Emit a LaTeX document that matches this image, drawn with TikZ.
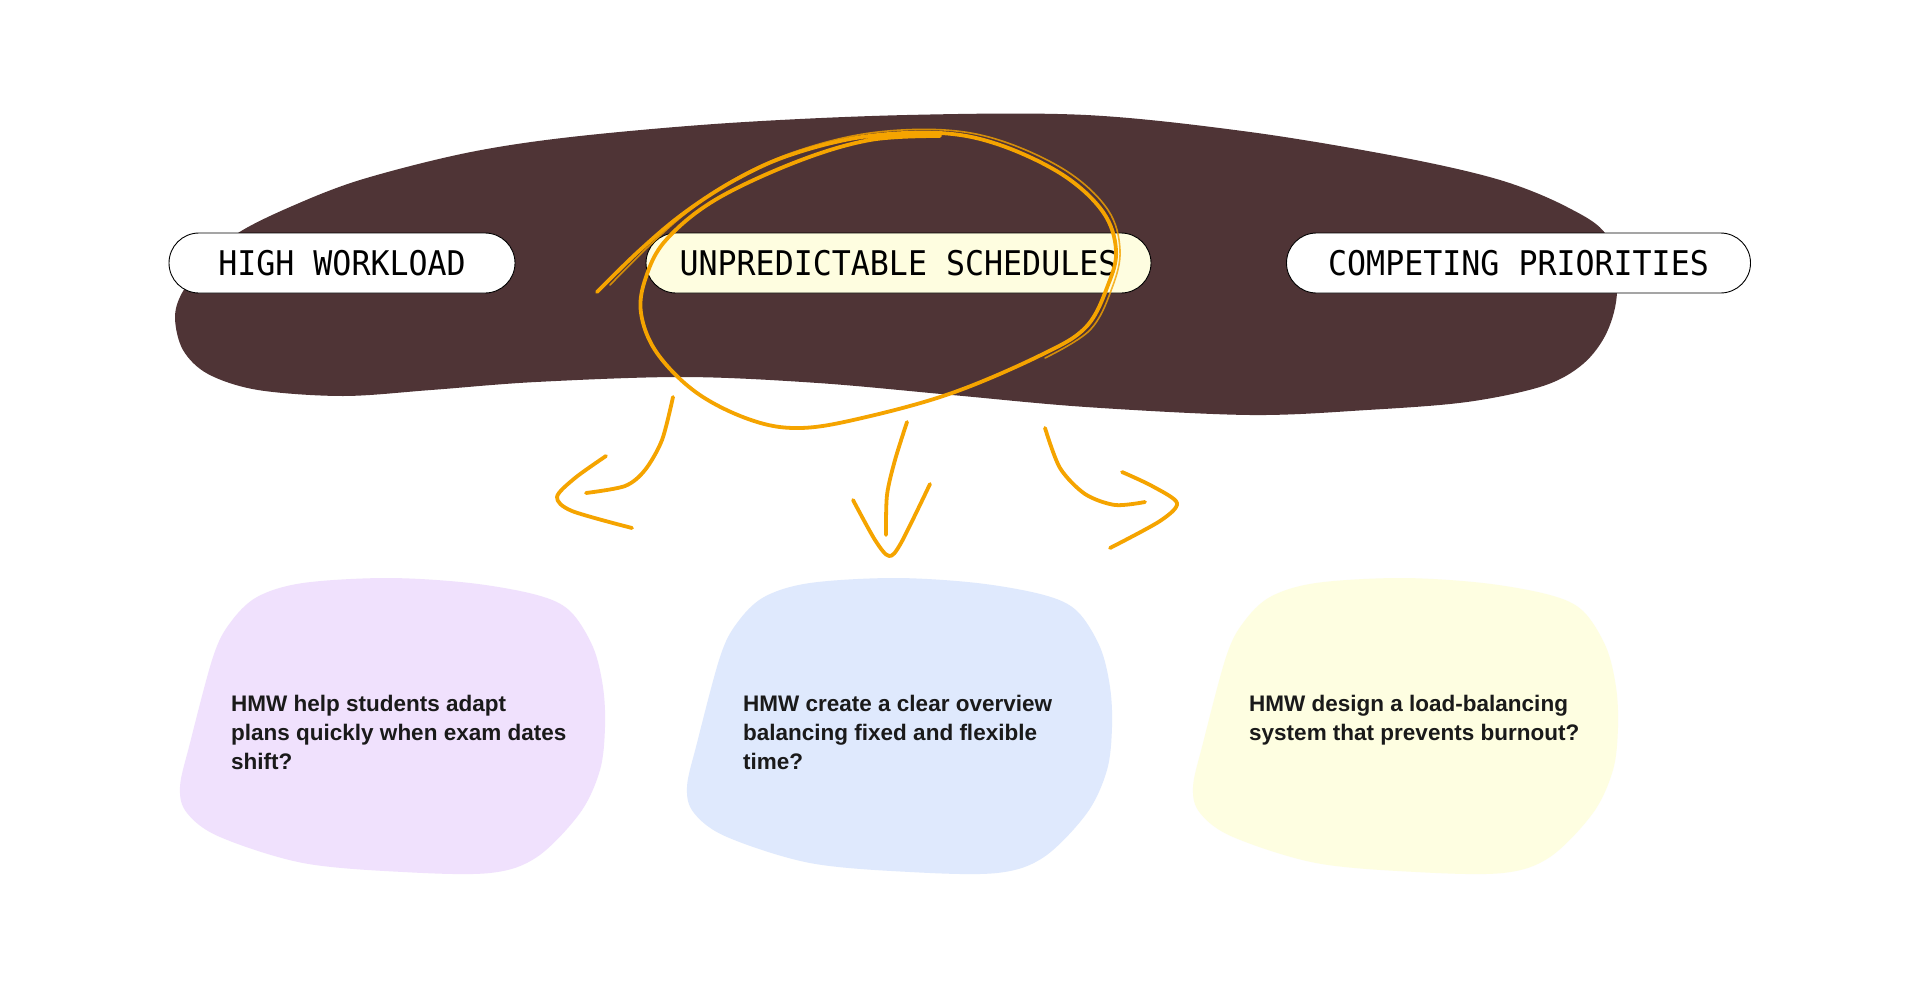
\documentclass[tikz,border=0pt]{standalone}
\usepackage{fontspec}
\setmainfont{Liberation Sans}
\newfontfamily\pillfont{DejaVu Sans Mono}[FakeStretch=0.93]
\usetikzlibrary{positioning}

\definecolor{blobbrown}{HTML}{4F3436}
\definecolor{marker}{HTML}{F5A400}
\definecolor{pillyellow}{HTML}{FEFDE0}
\definecolor{hmwpurple}{HTML}{F0E1FD}
\definecolor{hmwblue}{HTML}{DFE9FD}
\definecolor{hmwyellow}{HTML}{FEFEE1}
\definecolor{hmwtext}{HTML}{1A1A1A}

% shape of the question blobs
\def\hmwblob{plot[smooth cycle, tension=0.55] coordinates {(213,657) (230,623) (257,597)
  (303,583) (387,578) (470,583) (537,595) (570,611) (593,647) (603,687) (605,727)
  (600,770) (580,813) (537,857) (490,873) (403,872) (303,863) (220,837) (187,813)
  (180,787) (190,743)}}

\begin{document}
\begin{tikzpicture}[x=1pt,y=-1pt,
    pill/.style={draw=black, line width=0.9pt, rounded corners=30pt, minimum height=60pt,
      inner sep=0pt, font=\pillfont\fontsize{34}{34}\selectfont},
    scribble/.style={draw=marker, line width=3.8pt, line cap=round, line join=round},
    hmw/.style={anchor=north west, inner sep=0pt, align=left, text=hmwtext,
      font=\bfseries\fontsize{22.5}{29}\selectfont}]

    \useasboundingbox[fill=white] (0,0) rectangle (1921,1001);

    % brown cloud
    \fill[blobbrown] plot[smooth cycle, tension=0.55] coordinates {(238,233) (290,207)
      (360,180) (466,153) (571,137) (729,123) (907,115) (1086,115) (1250,132) (1400,157)
      (1500,180) (1567,207) (1607,236) (1617,290) (1607,332) (1583,364) (1543,386)
      (1467,402) (1367,410) (1250,415) (1086,407) (952,395) (818,383) (684,377)
      (536,382) (431,390) (343,396) (258,390) (208,374) (183,350) (175,318) (182,293)
      (205,262)};

    % problem pills
    \node[pill, fill=white, minimum width=346pt] (work) at (342,263) {HIGH WORKLOAD};
    \node[pill, fill=pillyellow, minimum width=505pt] (sched) at (898.5,263) {UNPREDICTABLE SCHEDULES};
    \node[pill, fill=white, minimum width=464pt] (prio) at (1518.5,263) {COMPETING PRIORITIES};

    % marker circle round the chosen pill
    \draw[scribble] plot[smooth, tension=0.6] coordinates {(597,292) (640,250) (684,213)
      (735,180) (790,155) (862,137) (940,133) (1000,145) (1063,175) (1103,212) (1116,250)
      (1108,285) (1086,327) (1041,355) (952,393) (862,418) (800,428) (751,420) (697,393)
      (657,353) (641,313) (646,277) (666,240) (715,200) (796,162) (870,140) (940,136)};
    \draw[scribble, line width=1.6pt, opacity=0.8] plot[smooth, tension=0.6] coordinates {
      (610,285) (650,245) (690,210) (740,176) (800,150) (870,133) (945,130) (1005,142)
      (1068,172) (1108,210) (1120,250) (1112,288) (1090,330) (1045,358)};

    % arrows down to the questions
    \coordinate (lstart) at (673,397);
    \coordinate (lend) at (586,493);
    \draw[scribble] plot[smooth] coordinates {(lstart) (662,440) (645,470) (625,486) (lend)};
    \draw[scribble] plot[smooth] coordinates {(606,456) (575,478) (557,497) (572,511) (632,528)};

    \coordinate (mstart) at (907,422);
    \coordinate (mend) at (886,535);
    \draw[scribble] plot[smooth] coordinates {(mstart) (895,460) (887,495) (mend)};
    \draw[scribble] plot[smooth] coordinates {(853,500) (875,540) (889,556) (901,543) (930,484)};

    \coordinate (rstart) at (1045,428);
    \coordinate (rend) at (1145,502);
    \draw[scribble] plot[smooth] coordinates {(rstart) (1060,468) (1085,494) (1115,505) (rend)};
    \draw[scribble] plot[smooth] coordinates {(1122,472) (1152,486) (1177,503) (1160,521) (1110,548)};

    % question blobs
    \fill[hmwpurple] \hmwblob;
    \begin{scope}[xshift=507pt]
      \fill[hmwblue] \hmwblob;
    \end{scope}
    \begin{scope}[xshift=1013pt]
      \fill[hmwyellow] \hmwblob;
    \end{scope}

    % questions
    \node[hmw] (q1) at (231,695) {HMW help students adapt\\plans quickly when exam dates\\shift?};
    \node[hmw] (q2) at (743,695) {HMW create a clear overview\\balancing fixed and flexible\\time?};
    \node[hmw] (q3) at (1249,695) {HMW design a load-balancing\\system that prevents burnout?};

\end{tikzpicture}
\end{document}
